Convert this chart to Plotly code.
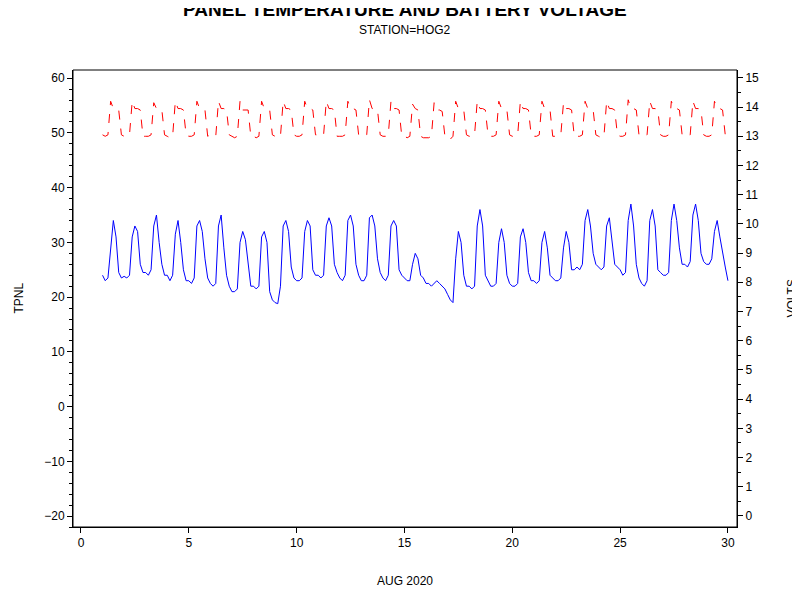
import numpy as np
import plotly.graph_objects as go

# temperature (TPNL), 8 readings per day (every 3 h), Aug 1 .. Aug 29, then final at Aug 30
tpnl = [
 24.0,23.0,23.5,29.0,34.0,31.0,24.5,23.5,
 23.8,23.5,24.0,31.0,33.0,32.0,26.0,24.5,
 24.5,24.0,25.0,33.0,35.0,30.0,26.0,24.0,
 24.0,23.0,24.0,31.5,34.0,30.0,25.0,23.0,
 23.0,22.5,23.5,33.0,34.0,32.0,27.0,23.5,
 22.5,22.0,22.5,33.0,35.0,29.0,24.0,22.0,
 21.0,21.0,21.5,30.0,32.0,30.5,26.0,22.0,
 22.0,21.5,22.0,31.0,32.0,30.0,21.0,19.5,
 19.0,18.8,22.0,33.0,34.0,32.0,25.5,23.5,
 23.0,23.0,23.5,32.0,34.0,33.0,25.0,24.0,
 24.0,23.5,24.0,33.0,34.5,33.0,26.0,24.5,
 23.5,23.0,24.0,34.0,35.0,33.0,26.0,24.0,
 23.0,23.0,24.0,34.5,35.0,33.0,27.0,24.5,
 23.5,23.0,24.0,33.0,34.0,33.0,25.0,24.0,
 23.5,23.0,23.0,26.0,28.0,27.0,24.0,23.5,
 22.5,22.5,22.0,22.5,23.0,22.5,22.0,21.5,
 20.5,19.5,19.0,27.0,32.0,30.0,24.0,22.0,
 22.0,21.5,22.0,33.0,36.0,33.0,24.0,23.0,
 22.0,22.0,22.5,30.0,32.5,30.0,24.0,22.5,
 22.0,22.0,22.5,31.0,32.5,30.0,24.5,23.0,
 23.0,22.5,23.0,30.0,32.0,29.0,24.0,23.5,
 23.0,23.0,23.5,29.0,32.0,30.0,25.0,25.0,
 25.5,25.0,26.0,34.0,36.0,33.0,28.0,26.0,
 25.5,25.0,25.5,33.0,34.5,30.0,26.0,25.5,
 25.0,24.0,24.5,34.0,37.0,33.0,26.0,23.5,
 22.5,22.0,23.0,34.0,36.0,33.0,25.0,24.5,
 24.0,24.0,24.5,34.0,37.0,34.0,29.0,26.0,
 26.0,25.5,26.5,35.0,37.0,34.0,28.0,26.5,
 26.0,26.0,27.0,32.0,34.0,31.0,28.0,25.5,
 23.0,
]
# battery volts, same timestamps
volts = [
 13.05,13.0,13.05,14.2,13.95,13.95,13.9,13.05,
 13.0,13.0,13.05,14.2,13.95,13.95,13.9,13.0,
 13.0,13.0,13.05,14.15,13.95,13.95,13.9,13.05,
 13.0,12.95,13.0,14.2,13.95,13.95,13.9,13.05,
 13.0,13.0,13.05,14.2,13.95,13.9,13.9,13.0,
 13.05,13.0,13.0,14.2,13.95,13.95,13.9,13.05,
 13.0,12.95,13.0,14.2,13.9,13.9,13.9,13.0,
 13.0,12.95,13.0,14.2,13.95,13.95,13.9,13.05,
 13.0,12.95,13.0,14.2,13.95,13.95,13.9,13.05,
 13.0,13.0,13.05,14.2,13.95,13.95,13.9,13.05,
 13.05,13.0,13.05,14.2,13.95,13.95,13.9,13.0,
 13.0,13.0,13.05,14.2,13.95,13.95,13.9,13.05,
 13.05,13.0,13.05,14.25,13.95,13.95,13.9,13.05,
 13.0,13.0,13.05,14.2,13.95,13.95,13.9,13.0,
 13.0,12.95,13.0,14.1,13.95,13.9,13.0,12.95,
 12.95,12.95,13.0,14.15,13.9,13.9,13.85,13.0,
 13.0,12.9,13.0,14.2,13.95,13.95,13.9,13.05,
 13.0,13.0,13.05,14.2,13.95,13.95,13.9,13.05,
 13.0,13.0,13.05,14.2,13.95,13.95,13.9,13.05,
 13.0,13.0,13.05,14.2,13.95,13.95,13.9,13.05,
 13.0,13.0,13.05,14.2,13.95,13.95,13.9,13.0,
 13.0,13.0,13.05,14.15,13.95,13.95,13.9,13.0,
 13.0,13.0,13.05,14.2,13.95,13.95,13.9,13.05,
 13.0,12.95,13.0,14.2,13.95,13.95,13.9,13.05,
 13.0,13.0,13.05,14.25,13.95,13.95,13.9,13.05,
 13.0,13.0,13.05,14.2,13.95,13.95,13.9,13.05,
 13.0,13.0,13.05,14.2,13.95,13.95,13.9,13.05,
 13.0,13.0,13.05,14.2,13.95,13.95,13.9,13.05,
 13.0,13.0,13.05,14.2,13.95,13.95,13.9,13.05,
 13.05,
]
x = 1 + np.arange(len(tpnl)) / 8.0

FONT = "Liberation Sans, Arial"
fig = go.Figure()
fig.add_trace(go.Scatter(x=x, y=tpnl, mode="lines", line=dict(color="blue", width=1), yaxis="y"))
fig.add_trace(go.Scatter(x=x, y=volts, mode="lines", line=dict(color="red", width=1, dash="dash"), yaxis="y2"))

base = dict(showgrid=False, zeroline=False, showline=True, linecolor="black", linewidth=1,
            ticks="outside", ticklen=5, tickcolor="black", tickfont=dict(size=12, color="black"))
fig.update_layout(
    width=800, height=600, showlegend=False,
    paper_bgcolor="white", plot_bgcolor="white",
    font=dict(family=FONT, color="black"),
    margin=dict(l=65, r=71, t=62, b=81),
    xaxis=dict(range=[-0.37, 30.42], tickvals=[0, 5, 10, 15, 20, 25, 30], **base),
    yaxis=dict(range=[-22, 61.5], tickvals=list(range(-20, 61, 10)),
               minor=dict(ticks="outside", ticklen=3, tickcolor="black", dtick=2), **base),
    yaxis2=dict(range=[-0.38, 15.27], overlaying="y", side="right", tickvals=list(range(0, 16)),
                minor=dict(ticks="outside", ticklen=3, tickcolor="black", dtick=0.5), **base),
    annotations=[
        dict(text="<b>PANEL TEMPERATURE AND BATTERY VOLTAGE</b>", x=0.5, y=1, xref="paper", yref="paper",
             xanchor="center", yanchor="bottom", yshift=48, showarrow=False, font=dict(size=19)),
        dict(text="STATION=HOG2", x=0.5, y=1, xref="paper", yref="paper",
             xanchor="center", yanchor="bottom", yshift=31, showarrow=False, font=dict(size=12)),
        dict(text="AUG 2020", x=0.5, y=0, xref="paper", yref="paper", xanchor="center", yanchor="top",
             yshift=-45, showarrow=False, font=dict(size=12)),
        dict(text="TPNL", x=0, y=0.5, xref="paper", yref="paper", xanchor="center", yanchor="middle",
             xshift=-55, textangle=-90, showarrow=False, font=dict(size=12)),
        dict(text="VOLTS", x=1, y=0.5, xref="paper", yref="paper", xanchor="center", yanchor="middle",
             xshift=54, textangle=-90, showarrow=False, font=dict(size=12)),
    ],
    shapes=[dict(type="rect", xref="paper", yref="paper", x0=0, y0=0, x1=1, y1=1,
                 line=dict(color="black", width=1))],
)
fig.write_html("out.html")
